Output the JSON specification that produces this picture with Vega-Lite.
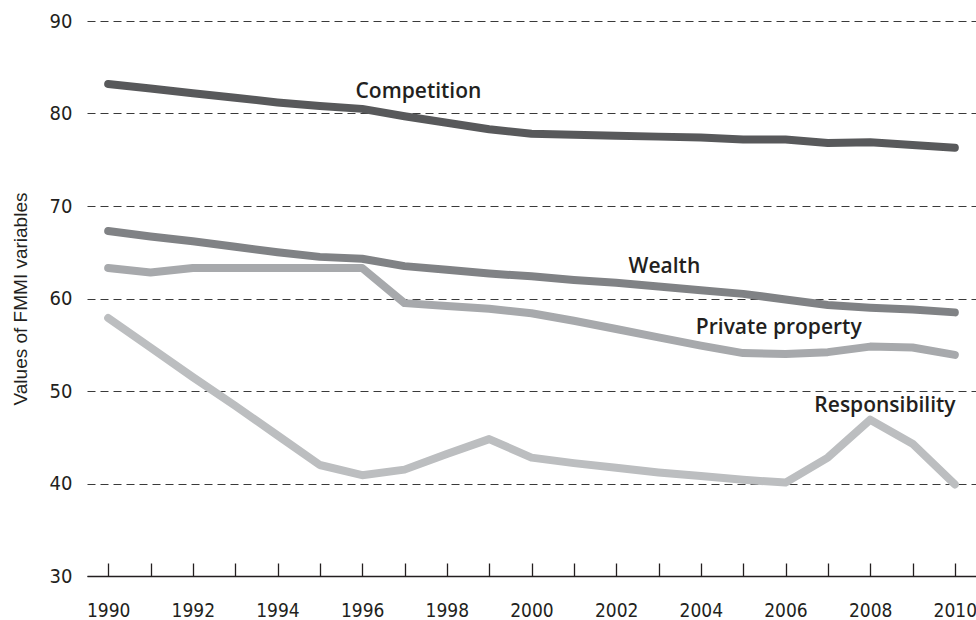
{
  "$schema": "https://vega.github.io/schema/vega-lite/v6.json",
  "width": 889,
  "height": 555,
  "autosize": "none",
  "padding": {"left": 87, "top": 21, "right": 0, "bottom": 44},
  "background": "white",
  "config": {"view": {"stroke": null}},
  "datasets": {
    "series": [
      {"year": 1990, "series": "Competition", "value": 83.2},
      {"year": 1991, "series": "Competition", "value": 82.7},
      {"year": 1992, "series": "Competition", "value": 82.2},
      {"year": 1993, "series": "Competition", "value": 81.7},
      {"year": 1994, "series": "Competition", "value": 81.2},
      {"year": 1995, "series": "Competition", "value": 80.8},
      {"year": 1996, "series": "Competition", "value": 80.5},
      {"year": 1997, "series": "Competition", "value": 79.7},
      {"year": 1998, "series": "Competition", "value": 79.0},
      {"year": 1999, "series": "Competition", "value": 78.3},
      {"year": 2000, "series": "Competition", "value": 77.8},
      {"year": 2001, "series": "Competition", "value": 77.7},
      {"year": 2002, "series": "Competition", "value": 77.6},
      {"year": 2003, "series": "Competition", "value": 77.5},
      {"year": 2004, "series": "Competition", "value": 77.4},
      {"year": 2005, "series": "Competition", "value": 77.2},
      {"year": 2006, "series": "Competition", "value": 77.2},
      {"year": 2007, "series": "Competition", "value": 76.8},
      {"year": 2008, "series": "Competition", "value": 76.9},
      {"year": 2009, "series": "Competition", "value": 76.6},
      {"year": 2010, "series": "Competition", "value": 76.3},
      {"year": 1990, "series": "Wealth", "value": 67.3},
      {"year": 1991, "series": "Wealth", "value": 66.7},
      {"year": 1992, "series": "Wealth", "value": 66.2},
      {"year": 1993, "series": "Wealth", "value": 65.6},
      {"year": 1994, "series": "Wealth", "value": 65.0},
      {"year": 1995, "series": "Wealth", "value": 64.5},
      {"year": 1996, "series": "Wealth", "value": 64.3},
      {"year": 1997, "series": "Wealth", "value": 63.5},
      {"year": 1998, "series": "Wealth", "value": 63.1},
      {"year": 1999, "series": "Wealth", "value": 62.7},
      {"year": 2000, "series": "Wealth", "value": 62.4},
      {"year": 2001, "series": "Wealth", "value": 62.0},
      {"year": 2002, "series": "Wealth", "value": 61.7},
      {"year": 2003, "series": "Wealth", "value": 61.3},
      {"year": 2004, "series": "Wealth", "value": 60.9},
      {"year": 2005, "series": "Wealth", "value": 60.5},
      {"year": 2006, "series": "Wealth", "value": 59.9},
      {"year": 2007, "series": "Wealth", "value": 59.3},
      {"year": 2008, "series": "Wealth", "value": 59.0},
      {"year": 2009, "series": "Wealth", "value": 58.8},
      {"year": 2010, "series": "Wealth", "value": 58.5},
      {"year": 1990, "series": "Private property", "value": 63.3},
      {"year": 1991, "series": "Private property", "value": 62.8},
      {"year": 1992, "series": "Private property", "value": 63.3},
      {"year": 1993, "series": "Private property", "value": 63.3},
      {"year": 1994, "series": "Private property", "value": 63.3},
      {"year": 1995, "series": "Private property", "value": 63.3},
      {"year": 1996, "series": "Private property", "value": 63.3},
      {"year": 1997, "series": "Private property", "value": 59.5},
      {"year": 1998, "series": "Private property", "value": 59.2},
      {"year": 1999, "series": "Private property", "value": 58.9},
      {"year": 2000, "series": "Private property", "value": 58.4},
      {"year": 2001, "series": "Private property", "value": 57.6},
      {"year": 2002, "series": "Private property", "value": 56.7},
      {"year": 2003, "series": "Private property", "value": 55.8},
      {"year": 2004, "series": "Private property", "value": 54.9},
      {"year": 2005, "series": "Private property", "value": 54.1},
      {"year": 2006, "series": "Private property", "value": 54.0},
      {"year": 2007, "series": "Private property", "value": 54.2},
      {"year": 2008, "series": "Private property", "value": 54.8},
      {"year": 2009, "series": "Private property", "value": 54.7},
      {"year": 2010, "series": "Private property", "value": 53.9},
      {"year": 1990, "series": "Responsibility", "value": 57.9},
      {"year": 1991, "series": "Responsibility", "value": 54.7},
      {"year": 1992, "series": "Responsibility", "value": 51.5},
      {"year": 1993, "series": "Responsibility", "value": 48.4},
      {"year": 1994, "series": "Responsibility", "value": 45.2},
      {"year": 1995, "series": "Responsibility", "value": 42.0},
      {"year": 1996, "series": "Responsibility", "value": 40.9},
      {"year": 1997, "series": "Responsibility", "value": 41.5},
      {"year": 1998, "series": "Responsibility", "value": 43.2},
      {"year": 1999, "series": "Responsibility", "value": 44.8},
      {"year": 2000, "series": "Responsibility", "value": 42.8},
      {"year": 2001, "series": "Responsibility", "value": 42.2},
      {"year": 2002, "series": "Responsibility", "value": 41.7},
      {"year": 2003, "series": "Responsibility", "value": 41.2},
      {"year": 2004, "series": "Responsibility", "value": 40.8},
      {"year": 2005, "series": "Responsibility", "value": 40.4},
      {"year": 2006, "series": "Responsibility", "value": 40.1},
      {"year": 2007, "series": "Responsibility", "value": 42.8},
      {"year": 2008, "series": "Responsibility", "value": 46.9},
      {"year": 2009, "series": "Responsibility", "value": 44.3},
      {"year": 2010, "series": "Responsibility", "value": 39.9}
    ],
    "labels": [
      {"year": 1997.33, "value": 82.3, "label": "Competition"},
      {"year": 2003.14, "value": 63.4, "label": "Wealth"},
      {"year": 2005.84, "value": 56.8, "label": "Private property"},
      {"year": 2008.35, "value": 48.4, "label": "Responsibility"}
    ]
  },
  "encoding": {
    "x": {
      "field": "year",
      "type": "quantitative",
      "scale": {"domain": [1989.5, 2010.5], "nice": false, "zero": false},
      "axis": {
        "title": null,
        "values": [1990,1991,1992,1993,1994,1995,1996,1997,1998,1999,2000,2001,2002,2003,2004,2005,2006,2007,2008,2009,2010],
        "labelExpr": "datum.value % 2 == 0 ? datum.value : ''",
        "format": "d",
        "grid": false,
        "domain": true,
        "domainColor": "#231f20",
        "domainWidth": 1.3,
        "ticks": true,
        "tickSize": -13,
        "tickColor": "#231f20",
        "tickWidth": 1.3,
        "labelPadding": 53,
        "labelBaseline": "alphabetic",
        "labelFont": "DejaVu Sans Condensed",
        "labelFontSize": 19,
        "labelFontWeight": "normal",
        "labelColor": "#231f20",
        "labelFlush": false,
        "labelOverlap": false
      }
    },
    "y": {
      "field": "value",
      "type": "quantitative",
      "scale": {"domain": [30, 90], "nice": false, "zero": false},
      "axis": {
        "title": "Values of FMMI variables",
        "titleFont": "Liberation Sans",
        "titleFontSize": 19,
        "titleFontWeight": "normal",
        "titleColor": "#231f20",
        "titlePadding": 19,
        "values": [30, 40, 50, 60, 70, 80, 90],
        "domain": false,
        "ticks": false,
        "grid": true,
        "gridColor": "#3a3a3a",
        "gridDash": [8, 5],
        "gridWidth": 1,
        "labelPadding": 15,
        "labelFont": "DejaVu Sans Condensed",
        "labelFontSize": 20,
        "labelFontWeight": "normal",
        "labelColor": "#231f20"
      }
    }
  },
  "layer": [
    {
      "data": {"name": "series"},
      "mark": {"type": "line", "strokeWidth": 8, "strokeCap": "round", "strokeJoin": "round"},
      "encoding": {
        "color": {
          "field": "series",
          "type": "nominal",
          "scale": {
            "domain": ["Competition", "Wealth", "Private property", "Responsibility"],
            "range": ["#58595b", "#808285", "#a7a9ac", "#bcbec0"]
          },
          "legend": null
        }
      }
    },
    {
      "data": {"name": "labels"},
      "mark": {"type": "text", "font": "Open Sans", "fontSize": 21, "fontWeight": 600, "color": "#231f20", "align": "center", "baseline": "middle"},
      "encoding": {
        "text": {"field": "label", "type": "nominal"}
      }
    }
  ]
}
